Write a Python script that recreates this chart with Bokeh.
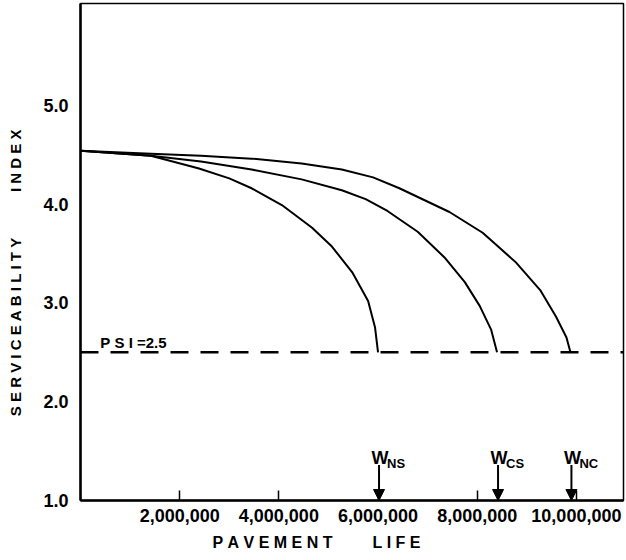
from bokeh.plotting import figure
from bokeh.models import (Range1d, NumeralTickFormatter, FixedTicker, Label,
                          Arrow, NormalHead, ColumnDataSource)
from bokeh.core.properties import value
from bokeh.embed import file_html
from bokeh.resources import INLINE

# ---- data (pavement life in millions of load applications, PSI) ----
ns_life = [0, 1.42, 2.39, 3.0, 3.45, 4.06, 4.67, 5.07, 5.48, 5.80, 5.94, 6.0]
ns_psi = [4.54, 4.49, 4.36, 4.26, 4.16, 3.99, 3.76, 3.57, 3.31, 3.02, 2.75, 2.5]

cs_life = [0, 1.42, 2.43, 3.45, 4.46, 5.27, 5.75, 6.19, 6.80, 7.34, 7.75, 8.05,
           8.28, 8.40]
cs_psi = [4.54, 4.49, 4.43, 4.35, 4.25, 4.14, 4.05, 3.93, 3.72, 3.46, 3.21, 2.97,
          2.73, 2.5]

nc_life = [0, 1.42, 2.43, 3.45, 4.46, 5.27, 5.90, 6.43, 7.44, 8.11, 8.78, 9.27,
           9.59, 9.80, 9.88]
nc_psi = [4.54, 4.51, 4.49, 4.46, 4.41, 4.35, 4.27, 4.16, 3.92, 3.71, 3.41, 3.13,
          2.86, 2.65, 2.5]

psi_terminal = 2.5
w_names = ["NS", "CS", "NC"]
w_life = [6.02, 8.42, 9.9]

x_ticks = [2e6, 4e6, 6e6, 8e6, 10e6]
y_ticks = [1, 2, 3, 4, 5]

M = 1e6
FONT = "Liberation Sans"
NB = "\u00a0"


def spaced(word):
    return NB.join(word)


p = figure(width=626, height=560, output_backend="svg", toolbar_location=None,
           x_range=Range1d(0, 10.95e6), y_range=Range1d(1.0, 6.03),
           min_border_left=80, min_border_right=3, min_border_top=3,
           min_border_bottom=60)
p.xgrid.visible = False
p.ygrid.visible = False
p.outline_line_color = "black"
p.outline_line_width = 1.5
p.background_fill_color = "white"
p.border_fill_color = "white"

# axes
p.xaxis.ticker = FixedTicker(ticks=x_ticks)
p.xaxis.formatter = NumeralTickFormatter(format="0,0")
p.xaxis.major_tick_in = 10
p.xaxis.major_tick_out = 0
p.xaxis.major_tick_line_width = 1.5
p.xaxis.minor_tick_line_color = None
p.xaxis.axis_line_width = 2.5
p.xaxis.major_label_standoff = 8
p.yaxis.ticker = FixedTicker(ticks=y_ticks)
p.yaxis.formatter = NumeralTickFormatter(format="0.0")
p.yaxis.major_tick_in = 0
p.yaxis.major_tick_out = 0
p.yaxis.minor_tick_line_color = None
p.yaxis.axis_line_width = 2.5
p.yaxis.major_label_standoff = 12
for ax in (p.xaxis, p.yaxis):
    ax.major_label_text_font = FONT
    ax.major_label_text_font_style = "bold"
    ax.major_label_text_font_size = "18px"
    ax.major_label_text_color = "black"
    ax.axis_line_color = "black"
    ax.major_tick_line_color = "black"
    ax.axis_label_text_font = FONT
    ax.axis_label_text_font_style = "bold"
    ax.axis_label_text_color = "black"

# letter-spaced axis titles (non-breaking spaces keep the gaps)
p.xaxis.axis_label = spaced("PAVEMENT") + NB * 9 + spaced("LIFE") + NB * 16
p.xaxis.axis_label_text_font_size = "16px"
p.xaxis.axis_label_standoff = 9
p.yaxis.axis_label = spaced("SERVICEABILITY") + NB * 11 + spaced("INDEX") + NB * 10
p.yaxis.axis_label_text_font_size = "15px"
p.yaxis.axis_label_standoff = 16

# terminal serviceability line
p.line([0, 10.95e6], [psi_terminal, psi_terminal], line_color="black",
       line_width=2.5, line_dash="18 12")

# curves
for xs, ys in ((ns_life, ns_psi), (cs_life, cs_psi), (nc_life, nc_psi)):
    p.line([v * M for v in xs], ys, line_color="black", line_width=2,
           line_join="round")

# arrows
asrc = ColumnDataSource(dict(x=[v * M for v in w_life],
                             y0=[1.36] * 3, y1=[1.0] * 3))
p.add_layout(Arrow(source=asrc, x_start="x", y_start="y0", x_end="x", y_end="y1",
                   line_width=2, line_color="black",
                   end=NormalHead(size=11, fill_color="black", line_color="black")))

# W labels
p.text(x=[v * M for v in w_life], y=[1.43] * 3, text=["W"] * 3,
       text_font=value(FONT), text_font_style="bold", text_font_size="18px",
       text_align="center", text_baseline="alphabetic", text_color="black",
       x_offset=1)
p.text(x=[v * M for v in w_life], y=[1.375] * 3, text=w_names,
       text_font=value(FONT), text_font_style="bold", text_font_size="13px",
       text_align="left", text_baseline="alphabetic", text_color="black",
       x_offset=8)

# PSI label
p.add_layout(Label(x=0.40 * M, y=2.60, text="P" + NB + "S" + NB + "I" + NB + "=2.5",
                   text_font=FONT, text_font_style="bold", text_font_size="15px",
                   text_baseline="alphabetic", text_color="black"))

open("out.html", "w").write(file_html(p, INLINE))
